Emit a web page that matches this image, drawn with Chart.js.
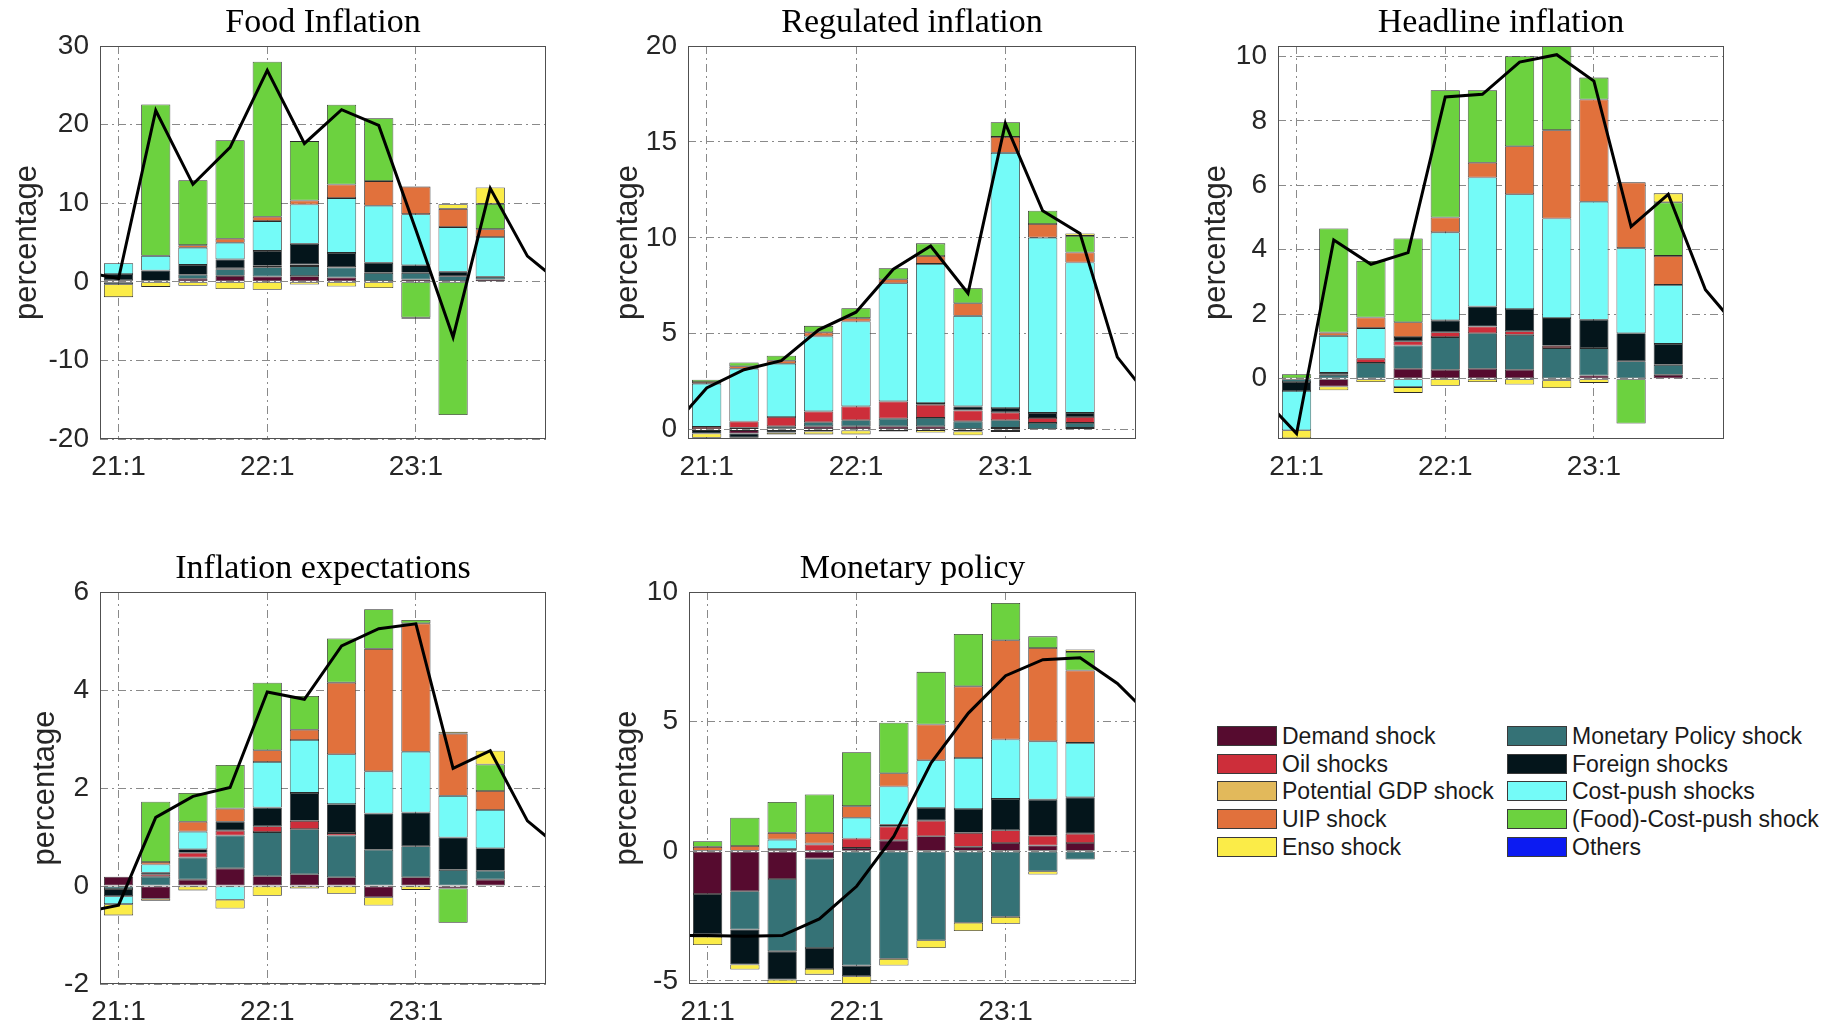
<!DOCTYPE html>
<html>
<head>
<meta charset="utf-8">
<title>Shock decomposition</title>
<script src="https://cdn.jsdelivr.net/npm/chart.js@4.4.1/dist/chart.umd.min.js"></script>
<style>
  html, body { margin: 0; padding: 0; background: #fff; }
  body { width: 1832px; height: 1027px; position: relative; overflow: hidden; }
  canvas { position: absolute; }
  .lg-item { position: absolute; height: 28px; line-height: 28px; display: flex; align-items: center;
             font-family: "Liberation Sans", Arial, sans-serif; font-size: 23px; color: #1a1a1a; white-space: nowrap; }
  .lg-swatch { width: 60px; height: 20px; box-sizing: border-box; border: 1px solid #3a3a3a; margin-right: 5px; flex: none; }
</style>
</head>
<body>
<script>
// ---- shocks (legend order) and their colours ----
const shockLabels = ['Demand shock', 'Oil shocks', 'Potential GDP shock', 'UIP shock', 'Enso shock',
  'Monetary Policy shock', 'Foreign shocks', 'Cost-push shocks', '(Food)-Cost-push shock', 'Others'];
const shockColors = ['#560b2f', '#cd2e3a', '#e2b95b', '#e1713c', '#fbec48',
  '#357276', '#04151b', '#74fbf8', '#6cd23f', '#0c1bf2'];
// order in which contributions are stacked outward from zero (indices into shockLabels)
const stackOrder = [0, 5, 1, 6, 7, 3, 8, 4, 2, 9];

// ---- time axis: quarters counted from 21:1 ----
const barQuarters = [0, 1, 2, 3, 4, 5, 6, 7, 8, 9, 10];
const lineQuarters = [-1, 0, 1, 2, 3, 4, 5, 6, 7, 8, 9, 10, 11, 12];
const quarterTicks = [0, 4, 8];
const quarterLabels = ['21:1', '22:1', '23:1'];

// ---- Food inflation ----
const foodDemand    = [0.20, 0.13, 0.38, 0.76, 0.68, 0.72, 0.55, 0.08, 0.30, 0.08, 0.30];
const foodOil       = [0, 0, 0, 0.13, 0.17, 0.20, 0.06, 0, 0, 0, 0];
const foodPotGdp    = [0, 0, 0, 0, 0, 0, 0, 0, -0.15, 0, 0];
const foodUip       = [0, 0, 0.33, 0.51, 0.55, 0.51, 1.72, 3.13, 3.50, 2.32, 1.00];
const foodEnso      = [-1.65, -0.65, -0.50, -0.93, -1.01, -0.34, -0.60, -0.80, 0, 0.59, 2.07];
const foodMonetary  = [-0.30, 0, 0.51, 0.84, 1.18, 1.28, 1.27, 1.06, 0.84, 0.64, 0.33];
const foodForeign   = [0.80, 1.31, 1.26, 1.12, 1.90, 2.63, 1.80, 1.27, 0.97, 0.55, 0];
const foodCostPush  = [1.36, 1.86, 2.18, 2.11, 3.79, 5.01, 6.97, 7.27, 6.50, 5.69, 5.07];
const foodFoodPush  = [0, 19.26, 8.27, 12.55, 19.72, 7.55, 10.15, 7.99, -4.56, -16.96, 3.22];
const foodOthers    = [0, 0, 0, 0, 0, 0, 0, 0, 0, 0, 0];
const foodTotal     = [1.3, 0.42, 21.8, 12.4, 17.1, 26.9, 17.6, 21.9, 19.9, 6.6, -7.05, 11.9, 3.27, -0.6];

// ---- Regulated inflation ----
const regDemand     = [0, -0.20, 0.07, 0.17, 0.17, 0.17, 0.17, -0.10, 0.09, 0, 0.09];
const regOil        = [0.14, 0.32, 0.49, 0.57, 0.72, 0.90, 0.69, 0.57, 0.41, 0.26, 0.31];
const regPotGdp     = [0, 0, 0, 0, 0, 0, 0, 0, 0, 0, 0];
const regUip        = [0.09, 0.13, 0.16, 0.21, 0.17, 0.21, 0.41, 0.66, 0.83, 0.71, 0.52];
const regEnso       = [-0.23, -0.06, -0.10, -0.15, -0.20, -0.10, -0.15, -0.20, -0.12, 0, 0.13];
const regMonetary   = [0, 0.10, 0.10, 0.21, 0.32, 0.40, 0.44, 0.43, 0.40, 0.35, 0.26];
const regForeign    = [-0.20, -0.22, -0.15, -0.10, -0.05, 0, 0.09, 0.21, 0.23, 0.26, 0.21];
const regCostPush   = [2.25, 2.75, 2.77, 3.91, 4.43, 6.16, 7.25, 4.72, 13.30, 9.14, 7.84];
const regFoodPush   = [0.12, 0.20, 0.26, 0.34, 0.52, 0.57, 0.66, 0.78, 0.77, 0.69, 0.87];
const regOthers     = [0, 0, 0, 0, 0, 0, 0, 0, 0, 0, 0];
const regTotal      = [-0.05, 2.17, 3.12, 3.59, 5.2, 6.12, 8.36, 9.57, 7.11, 15.96, 11.41, 10.23, 3.78, 1.32];

// ---- Headline inflation ----
const headDemand    = [0, -0.24, 0, 0.31, 0.28, 0.31, 0.28, -0.05, 0.10, 0, 0.12];
const headOil       = [0, 0, 0.13, 0.13, 0.15, 0.21, 0.11, 0.07, 0, 0, 0];
const headPotGdp    = [0, 0, 0, 0, 0, 0, 0, 0, 0, 0, 0];
const headUip       = [0, 0.10, 0.33, 0.46, 0.46, 0.46, 1.49, 2.74, 3.17, 2.04, 0.90];
const headEnso      = [-0.25, -0.12, -0.10, -0.18, -0.22, -0.10, -0.18, -0.24, -0.13, 0, 0.28];
const headMonetary  = [-0.10, 0.12, 0.49, 0.72, 1.01, 1.10, 1.08, 0.95, 0.85, 0.54, 0.31];
const headForeign   = [-0.28, 0.06, 0, 0.13, 0.37, 0.62, 0.69, 0.86, 0.88, 0.87, 0.65];
const headCostPush  = [-1.22, 1.15, 0.95, -0.26, 2.73, 4.00, 3.56, 3.09, 3.66, 2.64, 1.83];
const headFoodPush  = [0.14, 3.23, 1.75, 2.60, 3.95, 2.25, 2.79, 2.79, 0.68, -1.39, 1.66];
const headOthers    = [0, 0, 0, 0, 0, 0, 0, 0, 0, 0, 0];
const headTotal     = [-0.47, -1.70, 4.30, 3.55, 3.91, 8.74, 8.82, 9.82, 10.05, 9.23, 4.72, 5.72, 2.76, 1.40];

// ---- Inflation expectations ----
const expDemand     = [0.19, -0.26, 0.13, 0.36, 0.20, 0.24, 0.18, -0.23, 0.18, -0.05, 0.13];
const expOil        = [0, 0.04, 0.10, 0.10, 0.12, 0.17, 0.05, 0, 0, 0, 0];
const expPotGdp     = [0, -0.04, 0, 0, 0, 0, 0, 0, 0, 0, 0];
const expUip        = [0, 0.05, 0.20, 0.27, 0.24, 0.21, 1.46, 2.50, 2.62, 1.27, 0.39];
const expEnso       = [-0.23, 0, -0.09, -0.18, -0.20, -0.05, -0.16, -0.17, -0.08, 0.04, 0.28];
const expMonetary   = [-0.06, 0.19, 0.45, 0.67, 0.90, 0.92, 0.85, 0.74, 0.63, 0.33, 0.18];
const expForeign    = [-0.15, 0.04, 0.07, 0.18, 0.38, 0.57, 0.59, 0.74, 0.69, 0.66, 0.46];
const expCostPush   = [-0.16, 0.17, 0.36, -0.28, 0.93, 1.08, 1.02, 0.86, 1.24, 0.85, 0.78];
const expFoodPush   = [0, 1.23, 0.59, 0.89, 1.38, 0.69, 0.90, 0.81, 0.07, -0.70, 0.54];
const expOthers     = [0, 0, 0, 0, 0, 0, 0, 0, 0, 0, 0];
const expTotal      = [-0.55, -0.39, 1.40, 1.83, 2.01, 3.96, 3.81, 4.90, 5.25, 5.35, 2.40, 2.76, 1.33, 0.70];

// ---- Monetary policy ----
const polDemand     = [-1.65, -1.54, -1.07, -0.28, 0.13, 0.42, 0.58, 0.17, 0.32, 0.22, 0.32];
const polOil        = [0, 0, 0.09, 0.26, 0.36, 0.54, 0.60, 0.54, 0.49, 0.38, 0.36];
const polPotGdp     = [0, 0, 0, 0, 0, 0, 0, 0, 0, 0, 0];
const polUip        = [0.17, 0.20, 0.26, 0.41, 0.45, 0.51, 1.38, 2.76, 3.83, 3.60, 2.79];
const polEnso       = [-0.32, -0.19, -0.19, -0.22, -0.32, -0.26, -0.30, -0.32, -0.27, -0.13, 0.09];
const polMonetary   = [0, -1.48, -2.79, -3.45, -4.41, -4.15, -3.43, -2.76, -2.53, -0.77, -0.32];
const polForeign    = [-1.55, -1.35, -1.09, -0.81, -0.41, 0.06, 0.49, 0.92, 1.21, 1.39, 1.40];
const polCostPush   = [-0.10, 0, 0.36, 0.04, 0.80, 1.48, 1.84, 1.97, 2.29, 2.25, 2.10];
const polFoodPush   = [0.22, 1.09, 1.19, 1.48, 2.08, 1.95, 2.03, 2.02, 1.44, 0.45, 0.72];
const polOthers     = [0, 0, 0, 0, 0, 0, 0, 0, 0, 0, 0];
const polTotal      = [-3.25, -3.25, -3.28, -3.25, -2.61, -1.35, 0.58, 3.41, 5.33, 6.77, 7.39, 7.46, 6.47, 5.05];

// ---- page layout of the five axes (plot box in page pixels) ----
const SIDE = 100, RIGHT = 30, TOP = 46, BOTTOM = 50;

const panels = [
  { title: 'Food Inflation', box: [100, 46, 546, 439], yMin: -20, yMax: 30, yTicks: [-20, -10, 0, 10, 20, 30], labelX: 27.5,
    series: [foodDemand, foodOil, foodPotGdp, foodUip, foodEnso, foodMonetary, foodForeign, foodCostPush, foodFoodPush, foodOthers], total: foodTotal },
  { title: 'Regulated inflation', box: [688, 46, 1136, 439], yMin: -0.49, yMax: 20, yTicks: [0, 5, 10, 15, 20], labelX: 40,
    series: [regDemand, regOil, regPotGdp, regUip, regEnso, regMonetary, regForeign, regCostPush, regFoodPush, regOthers], total: regTotal },
  { title: 'Headline inflation', box: [1278, 46, 1724, 439], yMin: -1.87, yMax: 10.32, yTicks: [0, 2, 4, 6, 8, 10], labelX: 38.5,
    series: [headDemand, headOil, headPotGdp, headUip, headEnso, headMonetary, headForeign, headCostPush, headFoodPush, headOthers], total: headTotal },
  { title: 'Inflation expectations', box: [100, 592, 546, 984], yMin: -2, yMax: 6, yTicks: [-2, 0, 2, 4, 6], labelX: 45.5,
    series: [expDemand, expOil, expPotGdp, expUip, expEnso, expMonetary, expForeign, expCostPush, expFoodPush, expOthers], total: expTotal },
  { title: 'Monetary policy', box: [689, 592, 1136, 984], yMin: -5.12, yMax: 10, yTicks: [-5, 0, 5, 10], labelX: 38.5,
    series: [polDemand, polOil, polPotGdp, polUip, polEnso, polMonetary, polForeign, polCostPush, polFoodPush, polOthers], total: polTotal }
];

Chart.defaults.font.family = '"Liberation Sans", Arial, Helvetica, sans-serif';
Chart.defaults.color = '#262626';

// solid frame around each plotting area
const axesBox = {
  id: 'axesBox',
  afterDraw(chart) {
    const { ctx, chartArea: a } = chart;
    ctx.save();
    ctx.strokeStyle = '#505050';
    ctx.lineWidth = 1;
    ctx.strokeRect(a.left + 0.5, a.top + 0.5, a.right - a.left - 1, a.bottom - a.top - 1);
    ctx.restore();
  }
};

const gridStyle = { color: '#8a8a8a', lineWidth: 1, drawTicks: false, offset: false };
const gridDash = { display: false, dash: [8, 4, 2, 4] };

function buildPanel(p) {
  const [L, T, R, B] = p.box;
  const canvas = document.createElement('canvas');
  canvas.width = (R - L) + SIDE + RIGHT;
  canvas.height = (B - T) + TOP + BOTTOM;
  canvas.style.left = (L - SIDE) + 'px';
  canvas.style.top = (T - TOP) + 'px';
  document.body.appendChild(canvas);

  const datasets = [{
    type: 'line',
    label: 'Total',
    data: lineQuarters.map((q, i) => ({ x: q, y: p.total[i] })),
    borderColor: '#000',
    borderWidth: 3,
    pointRadius: 0,
    tension: 0,
    fill: false,
    order: 0,
    stack: 'total'
  }];
  stackOrder.forEach(k => {
    datasets.push({
      type: 'bar',
      label: shockLabels[k],
      data: barQuarters.map((q, i) => ({ x: q, y: p.series[k][i] === 0 ? null : p.series[k][i] })),
      backgroundColor: shockColors[k],
      borderColor: '#2b2b2b',
      borderWidth: 0.8,
      borderSkipped: false,
      barPercentage: 0.785,
      categoryPercentage: 1,
      order: 1,
      stack: 'shocks'
    });
  });

  new Chart(canvas, {
    type: 'bar',
    data: { datasets },
    options: {
      responsive: false,
      animation: false,
      devicePixelRatio: 1,
      layout: { padding: { left: 0, right: RIGHT, top: 0, bottom: 0 } },
      plugins: {
        legend: { display: false },
        tooltip: { enabled: false },
        title: {
          display: true,
          fullSize: false,
          text: p.title,
          color: '#000',
          font: { family: '"Liberation Serif", "Times New Roman", serif', size: 34, weight: 'normal', lineHeight: 1 },
          padding: { top: 6, bottom: 6 }
        }
      },
      scales: {
        x: {
          type: 'linear',
          min: -0.5,
          max: 11.5,
          offset: false,
          stacked: true,
          grid: gridStyle,
          border: gridDash,
          afterBuildTicks: s => { s.ticks = quarterTicks.map(v => ({ value: v })); },
          afterFit: s => { s.height = BOTTOM; },
          ticks: {
            autoSkip: false, maxRotation: 0, minRotation: 0, padding: 11,
            color: '#262626', font: { size: 28 },
            callback: (v, i) => quarterLabels[i]
          }
        },
        y: {
          type: 'linear',
          min: p.yMin,
          max: p.yMax,
          stacked: true,
          grid: gridStyle,
          border: gridDash,
          afterBuildTicks: s => { s.ticks = p.yTicks.map(v => ({ value: v })); },
          afterFit: s => { s.width = SIDE; },
          ticks: { padding: 11, color: '#262626', font: { size: 28 }, callback: v => String(v) },
          title: {
            display: true,
            text: 'percentage',
            color: '#262626',
            font: { size: 31, lineHeight: 1.2 },
            padding: { top: p.labelX - 18.6, bottom: 0 }
          }
        }
      }
    },
    plugins: [axesBox]
  });
}

panels.forEach(buildPanel);

// legend: two columns of five entries
const legendCols = [1217, 1507];
const legendRow0 = 736, legendPitch = 27.7;
shockLabels.forEach((name, k) => {
  const col = Math.floor(k / 5), row = k % 5;
  const item = document.createElement('div');
  item.className = 'lg-item';
  item.style.left = legendCols[col] + 'px';
  item.style.top = (legendRow0 + row * legendPitch - 14) + 'px';
  const sw = document.createElement('span');
  sw.className = 'lg-swatch';
  sw.style.background = shockColors[k];
  const txt = document.createElement('span');
  txt.textContent = name;
  item.appendChild(sw);
  item.appendChild(txt);
  document.body.appendChild(item);
});
</script>
</body>
</html>
